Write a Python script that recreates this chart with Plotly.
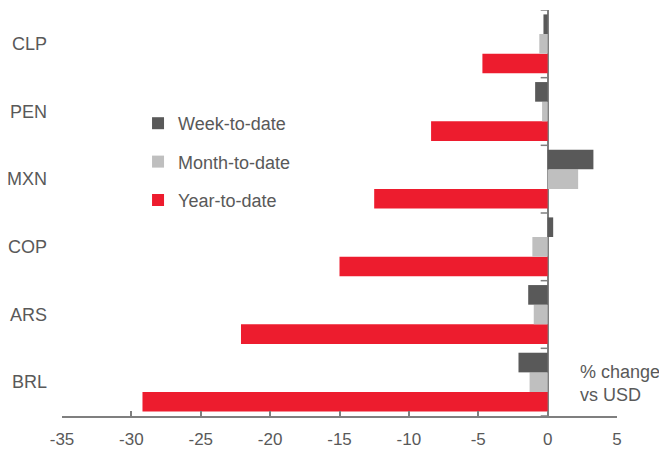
import plotly.graph_objects as go

currencies = ["BRL", "ARS", "COP", "MXN", "PEN", "CLP"]
week_to_date = [-2.1, -1.4, 0.4, 3.3, -0.9, -0.3]
month_to_date = [-1.3, -1.0, -1.1, 2.2, -0.4, -0.6]
year_to_date = [-29.2, -22.1, -15.0, -12.5, -8.4, -4.7]
x_ticks = [-35, -30, -25, -20, -15, -10, -5, 0, 5]
x_tick_labels = ["-35", "-30", "-25", "-20", "-15", "-10", "-5", "0", "5"]

GRAY_TXT = "#595959"
FONT = "Liberation Sans, Arial, sans-serif"

fig = go.Figure()
fig.add_trace(go.Bar(y=currencies, x=year_to_date, orientation="h", name="Year-to-date",
                     marker=dict(color="#ED1C2E", line=dict(width=0)), legendrank=3, legendgroup="c"))
fig.add_trace(go.Bar(y=currencies, x=month_to_date, orientation="h", name="Month-to-date",
                     marker=dict(color="#BFBFBF", line=dict(width=0)), legendrank=2, legendgroup="b"))
fig.add_trace(go.Bar(y=currencies, x=week_to_date, orientation="h", name="Week-to-date",
                     marker=dict(color="#595959", line=dict(width=0)), legendrank=1, legendgroup="a"))

shapes = []
for i in range(len(currencies) + 1):
    shapes.append(dict(type="line", xref="x", yref="y", x0=-0.5, x1=0, y0=i - 0.5, y1=i - 0.5,
                       line=dict(color="#7F7F7F", width=1.5)))

fig.update_layout(
    width=659, height=449,
    margin=dict(l=54, r=50, t=2, b=41),
    paper_bgcolor="white", plot_bgcolor="white",
    barmode="group", bargap=0.13, bargroupgap=0,
    font=dict(family=FONT, color=GRAY_TXT, size=17),
    showlegend=True,
    legend=dict(x=0.137, y=0.766, xanchor="left", yanchor="top", bgcolor="rgba(0,0,0,0)",
                font=dict(size=18, color=GRAY_TXT, family=FONT), tracegroupgap=12,
                itemwidth=30, traceorder="grouped"),
    xaxis=dict(range=[-35, 5], tickvals=x_ticks, ticktext=x_tick_labels, showgrid=False,
               showline=True, automargin=False, ticklabelstandoff=7,
               linecolor="#7F7F7F", linewidth=1.5, ticks="inside", ticklen=5,
               tickcolor="#7F7F7F", tickwidth=1.5, zeroline=True, zerolinecolor="#7F7F7F",
               zerolinewidth=2, tickfont=dict(size=17, color=GRAY_TXT), fixedrange=True),
    yaxis=dict(showgrid=False, showline=False, ticks="", ticklabelstandoff=14, automargin=False,
               range=[-0.5, 5.5], tickfont=dict(size=18, color=GRAY_TXT), fixedrange=True),
    shapes=shapes,
    annotations=[dict(text="% change<br>vs USD", xref="paper", yref="paper", x=0.93, y=0.08,
                      xanchor="left", yanchor="middle", align="left", showarrow=False,
                      font=dict(size=18, color=GRAY_TXT, family=FONT))],
)

fig.write_html("out.html")
